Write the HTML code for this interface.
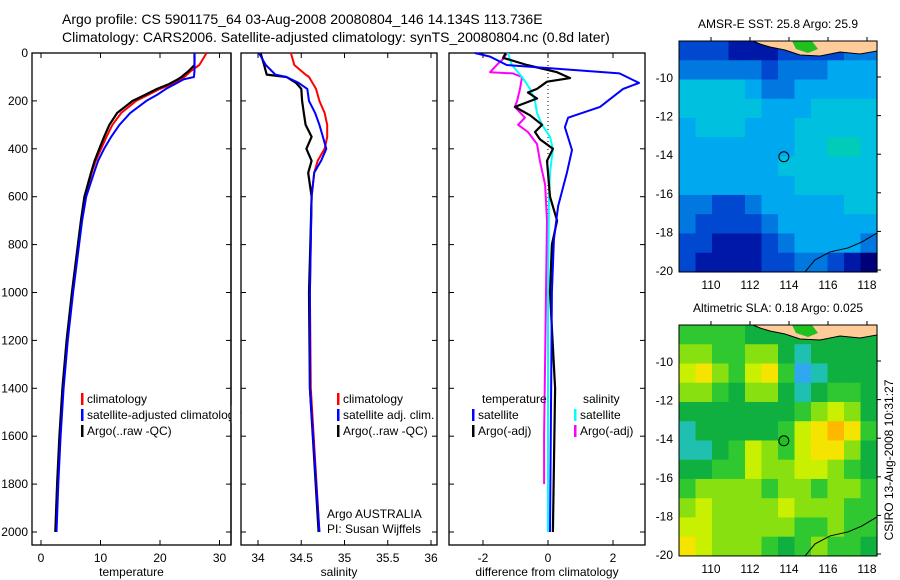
<!DOCTYPE html>
<html><head><meta charset="utf-8"><style>
body{margin:0;background:#fff}
svg{display:block;font-family:"Liberation Sans",sans-serif}
</style></head><body>
<svg id="c" width="900" height="580" viewBox="0 0 900 580"></svg>
<script>
// ---- data ----
const tDepth=[0,10,50,75,100,110,130,150,175,200,250,300,350,400,450,500,600,700,800,1000,1200,1400,1600,1800,2000];
const tClim=[27.8,27.6,26.6,25.2,24.1,23.5,22,20,18,16,13.5,12,11,10.1,9.2,8.5,7.4,6.8,6.3,5.3,4.4,3.7,3.2,2.8,2.5];
const tSat=[25.8,25.8,25.8,25.8,25.7,24,22.5,21,19.5,17.7,15,13.2,11.8,10.6,9.6,8.9,7.6,6.9,6.4,5.4,4.5,3.8,3.3,2.9,2.6];
const tArgo=[25.8,25.8,25.8,24.8,23.6,23,21.5,19.5,17.5,15.4,12.8,11.5,10.6,9.8,9,8.4,7.3,6.7,6.2,5.2,4.3,3.6,3.1,2.7,2.4];
const sDepth=[0,50,90,100,125,150,200,250,300,350,400,450,500,600,1000,1400,2000];
const sClim=[34.38,34.42,34.55,34.59,34.63,34.67,34.71,34.77,34.8,34.8,34.77,34.69,34.65,34.62,34.6,34.61,34.71];
const sSat=[34.01,34.09,34.2,34.33,34.47,34.57,34.59,34.66,34.71,34.75,34.79,34.73,34.65,34.62,34.6,34.6,34.71];
const sArgo=[34.03,34.07,34.1,34.33,34.44,34.5,34.51,34.53,34.55,34.62,34.56,34.62,34.58,34.62,34.59,34.6,34.7];
const dTSatDepth=[0,15,50,85,125,150,225,270,310,405,500,640,780,1000,2000];
const dTSat=[-2.25,-1.78,-1.27,2.2,2.8,2.31,1.6,0.62,0.52,0.74,0.58,0.31,0.18,0.12,0.06];
const dTArgoDepth=[0,20,50,80,105,120,150,165,190,225,260,300,330,360,400,450,600,700,800,1000,1400,2000];
const dTArgo=[-1.3,-1.38,-0.65,0.28,0.68,-0.03,-0.34,-0.62,-0.34,-1.02,-0.55,-0.18,-0.4,-0.25,0.15,-0.03,0.06,0.28,0.12,0.06,0.22,0.15];
const dSSatDepth=[0,50,100,150,200,250,300,350,400,500,600,1000,2000];
const dSSat=[-1.23,-1.11,-0.8,-0.55,-0.4,-0.34,-0.18,0.06,0.15,0.06,0.03,0,0];
const dSArgoDepth=[0,25,45,80,85,100,150,200,225,270,300,330,380,450,550,700,1000,1600,1800];
const dSArgo=[-1.26,-1.38,-1.54,-1.78,-1.08,-0.8,-0.86,-0.95,-1.02,-0.71,-0.92,-0.62,-0.34,-0.25,-0.09,-0.03,-0.06,-0.12,-0.12];
const depthTicks=[0,200,400,600,800,1000,1200,1400,1600,1800,2000];
const tTicks=[0,10,20,30];
const sTicks=[34,34.5,35,35.5,36];
const dTicks=[-2,0,2];
const latTicks=[-10,-12,-14,-16,-18,-20];
const lonTicks=[110,112,114,116,118];
const sstGrid=[
[2,2,2,1,1,1,2,2,2,2,3,3],
[3,3,3,3,3,2,3,3,3,4,4,4],
[5,5,5,5,4,3,3,4,4,4,4,4],
[5,5,5,5,5,4,4,4,5,5,5,5],
[4,5,5,5,4,4,4,5,5,5,5,5],
[4,4,4,4,4,4,4,5,5,6,6,5],
[4,4,4,4,4,4,5,5,5,5,5,5],
[4,4,4,4,4,4,4,5,5,5,5,5],
[3,3,2,2,3,4,4,4,4,4,5,5],
[3,2,2,2,2,3,4,4,4,4,4,4],
[2,2,1,1,1,2,3,4,4,4,4,3],
[2,1,1,1,1,2,2,3,3,2,1,0]];
const slaGrid=[
[3,3,3,3,2,2,2,2,2,2,2,2],
[4,4,3,3,4,4,2,1,2,2,2,2],
[5,6,4,3,5,6,3,0,1,2,2,2],
[4,4,3,2,4,4,2,1,2,3,3,2],
[2,2,2,2,2,2,2,3,4,5,4,2],
[1,2,2,2,2,2,3,5,6,7,6,3],
[1,1,2,3,5,4,3,5,6,6,4,2],
[2,2,3,3,5,4,4,5,5,4,3,2],
[3,4,4,4,4,3,4,4,3,4,4,3],
[4,5,4,4,4,4,5,4,4,4,3,3],
[5,5,4,4,4,4,4,3,3,4,3,3],
[6,5,4,4,4,3,2,3,4,3,3,2]];
const floatLon=113.736, floatLat=-14.134;

// ---- helpers ----
const NS="http://www.w3.org/2000/svg";const svg=document.getElementById('c');
function el(tag,attrs,parent,text){const e=document.createElementNS(NS,tag);for(const k in attrs)e.setAttribute(k,attrs[k]);if(text!==undefined)e.textContent=text;(parent||svg).appendChild(e);return e;}
const Y0=53,Y1=545;
const yDepth=d=>53+d*0.2395;
function panel(name,x0,x1,xs,ticks,fmt,label){
  const g=el('g',{});
  
  
  el('rect',{x:x0,y:Y0,width:x1-x0,height:Y1-Y0,fill:'#fff',stroke:'#000','stroke-width':1.3},g);
  ticks.forEach(t=>{const x=xs(t);
    el('line',{x1:x,x2:x,y1:Y1,y2:Y1-5,stroke:'#000'},g);el('line',{x1:x,x2:x,y1:Y0,y2:Y0+5,stroke:'#000'},g);
    const tl=el('text',{x:x,y:Y1+17,'font-size':12,'text-anchor':'middle'},g,fmt(t));
    });
  depthTicks.forEach(d=>{const y=yDepth(d);el('line',{x1:x0,x2:x0+5,y1:y,y2:y,stroke:'#000'},g);el('line',{x1:x1,x2:x1-5,y1:y,y2:y,stroke:'#000'},g);});
  const al=el('text',{x:(x0+x1)/2,y:576,'font-size':12,'text-anchor':'middle'},g,label);
  
  return g;
}
function line(g,xs,vals,depths,color,w,name){
  const pts=vals.map((v,i)=>xs(v).toFixed(1)+','+yDepth(depths[i]).toFixed(1)).join(' ');
  const p=el('polyline',{points:pts,fill:'none',stroke:color,'stroke-width':w,'stroke-linejoin':'round'},g);
  
}
function legend(g,x,y,color,text,name){
  el('rect',{x:x,y:y-10,width:2.5,height:12,fill:color},g);
  const t=el('text',{x:x+6,y:y,'font-size':12},g,text);
  
}
// titles
const t1=el('text',{x:62,y:24,'font-size':14},null,'Argo profile: CS 5901175_64 03-Aug-2008 20080804_146 14.134S 113.736E');

const t2=el('text',{x:62,y:42,'font-size':14},null,'Climatology: CARS2006. Satellite-adjusted climatology: synTS_20080804.nc (0.8d later)');

// depth labels
depthTicks.forEach(d=>{const t=el('text',{x:28,y:yDepth(d)+4,'font-size':12,'text-anchor':'end'},null,String(d));
  });

// panel 1
const xT=v=>41+v*5.95;
const p1=panel('temperature-panel',32,231,xT,tTicks,String,'temperature');
line(p1,xT,tClim,tDepth,'#f00',2,'temp-climatology-line');
line(p1,xT,tArgo,tDepth,'#000',2.2,'temp-argo-line');
line(p1,xT,tSat,tDepth,'#00f',2,'temp-satellite-line');
legend(p1,81,403,'#f00','climatology','legend-climatology');
legend(p1,81,419,'#00f','satellite-adjusted climatology','legend-satellite');
legend(p1,81,435,'#000','Argo(..raw -QC)','legend-argo');
el('rect',{x:231,y:405,width:9,height:18,fill:'#fff'});
el('line',{x1:231,x2:231,y1:Y0,y2:Y1,stroke:'#000','stroke-width':1.3});

// panel 2
const xS=v=>258+(v-34)*86.5;
const p2=panel('salinity-panel',241,437,xS,sTicks,String,'salinity');
line(p2,xS,sClim,sDepth,'#f00',2,'sal-climatology-line');
line(p2,xS,sArgo,sDepth,'#000',2.2,'sal-argo-line');
line(p2,xS,sSat,sDepth,'#00f',2,'sal-satellite-line');
legend(p2,337,403,'#f00','climatology','legend-sal-climatology');
legend(p2,337,419,'#00f','satellite adj. clim.','legend-sal-satellite');
legend(p2,337,435,'#000','Argo(..raw -QC)','legend-sal-argo');
const a1=el('text',{x:327,y:518,'font-size':12},p2,'Argo AUSTRALIA');
const a2=el('text',{x:327,y:533,'font-size':12},p2,'PI: Susan Wijffels');

// panel 3
const xD=v=>548+v*32.5;
const p3=panel('difference-panel',449,645,xD,dTicks,String,'difference from climatology');
el('line',{x1:xD(0),x2:xD(0),y1:yDepth(0),y2:yDepth(2000),stroke:'#000','stroke-dasharray':'1,3'},p3);
line(p3,xD,dSArgo,dSArgoDepth,'#f0f',2,'diff-sal-argo-line');
line(p3,xD,dSSat,dSSatDepth,'#0ff',2,'diff-sal-satellite-line');
line(p3,xD,dTArgo,dTArgoDepth,'#000',2.2,'diff-temp-argo-line');
line(p3,xD,dTSat,dTSatDepth,'#00f',2,'diff-temp-satellite-line');
const h1=el('text',{x:482,y:403,'font-size':12},p3,'temperature');
const h2=el('text',{x:583,y:403,'font-size':12},p3,'salinity');
legend(p3,472,419,'#00f','satellite','legend-diff-temp-satellite');
legend(p3,472,435,'#000','Argo(-adj)','legend-diff-temp-argo');
legend(p3,574,419,'#0ff','satellite','legend-diff-sal-satellite');
legend(p3,574,435,'#f0f','Argo(-adj)','legend-diff-sal-argo');

// maps
const sstColors=['#00007a','#0018a8','#0048d0','#0078e0','#00a8f0','#00c0e0','#00ccb8'];
const slaColors=['#30a8f0','#20c0b0','#10b040','#30c830','#88e010','#c8f000','#f4e400','#ffb800'];
const mLon=lon=>711+(lon-110)*19.5;
function map(name,top,grid,colors,title){
  const g=el('g',{});
  
  
  const y10=top+36; const mLat=lat=>y10+(-10-lat)*19.3;
  const L=679,R=877,B=mLat(-20.1);
  const cw=(R-L)/12,ch=(B-top)/12;
  grid.forEach((row,r)=>row.forEach((v,c)=>{
    const cell=el('rect',{x:(L+c*cw).toFixed(2),y:(top+r*ch).toFixed(2),width:(cw+0.6).toFixed(2),height:(ch+0.6).toFixed(2),fill:colors[v]},g);
    
  }));
  // land
  el('path',{d:`M753,${top} L877,${top} L877,${top+10} L860,${top+13} L840,${top+11} L820,${top+15} L800,${top+14} L785,${top+9} L770,${top+6} L760,${top+3} Z`,fill:'#ffcc99',stroke:'#000','stroke-width':1},g);
  el('path',{d:`M792,${top} L812,${top} L818,${top+8} L808,${top+12} L796,${top+8} Z`,fill:'#20c020'},g);
  el('polyline',{points:`877,${B-39} 862,${B-30} 848,${B-24} 830,${B-20} 815,${B-12} 805,${B}`,fill:'none',stroke:'#000','stroke-width':1},g);
  el('rect',{x:L,y:top,width:R-L,height:B-top,fill:'none',stroke:'#000','stroke-width':1},g);
  latTicks.forEach(lat=>{const y=mLat(lat);el('line',{x1:R,x2:R+4,y1:y,y2:y,stroke:'#000'},g);
    const t=el('text',{x:673,y:y+5,'font-size':12,'text-anchor':'end'},g,String(lat));});
  lonTicks.forEach(lon=>{const x=mLon(lon);el('line',{x1:x,x2:x,y1:top,y2:top-4,stroke:'#000'},g);
    const t=el('text',{x:x,y:B+17,'font-size':12,'text-anchor':'middle'},g,String(lon));});
  const tt=el('text',{x:778,y:top-13,'font-size':12,'text-anchor':'middle'},g,title);
  return {g,mLat};
}
const m1=map('sst-map',41,sstGrid,sstColors,'AMSR-E SST: 25.8 Argo: 25.9');
const c1=el('circle',{cx:mLon(floatLon),cy:m1.mLat(floatLat),r:5,fill:'none',stroke:'#000'},m1.g);

const m2=map('sla-map',325,slaGrid,slaColors,'Altimetric SLA: 0.18 Argo: 0.025');
const c2=el('circle',{cx:mLon(floatLon),cy:m2.mLat(floatLat),r:5,fill:'#20c020',stroke:'#000'},m2.g);

const st=el('text',{x:0,y:0,'font-size':12,'text-anchor':'middle',transform:'translate(893,460) rotate(-90)'},null,'CSIRO 13-Aug-2008 10:31:27');

</script>
</body></html>
